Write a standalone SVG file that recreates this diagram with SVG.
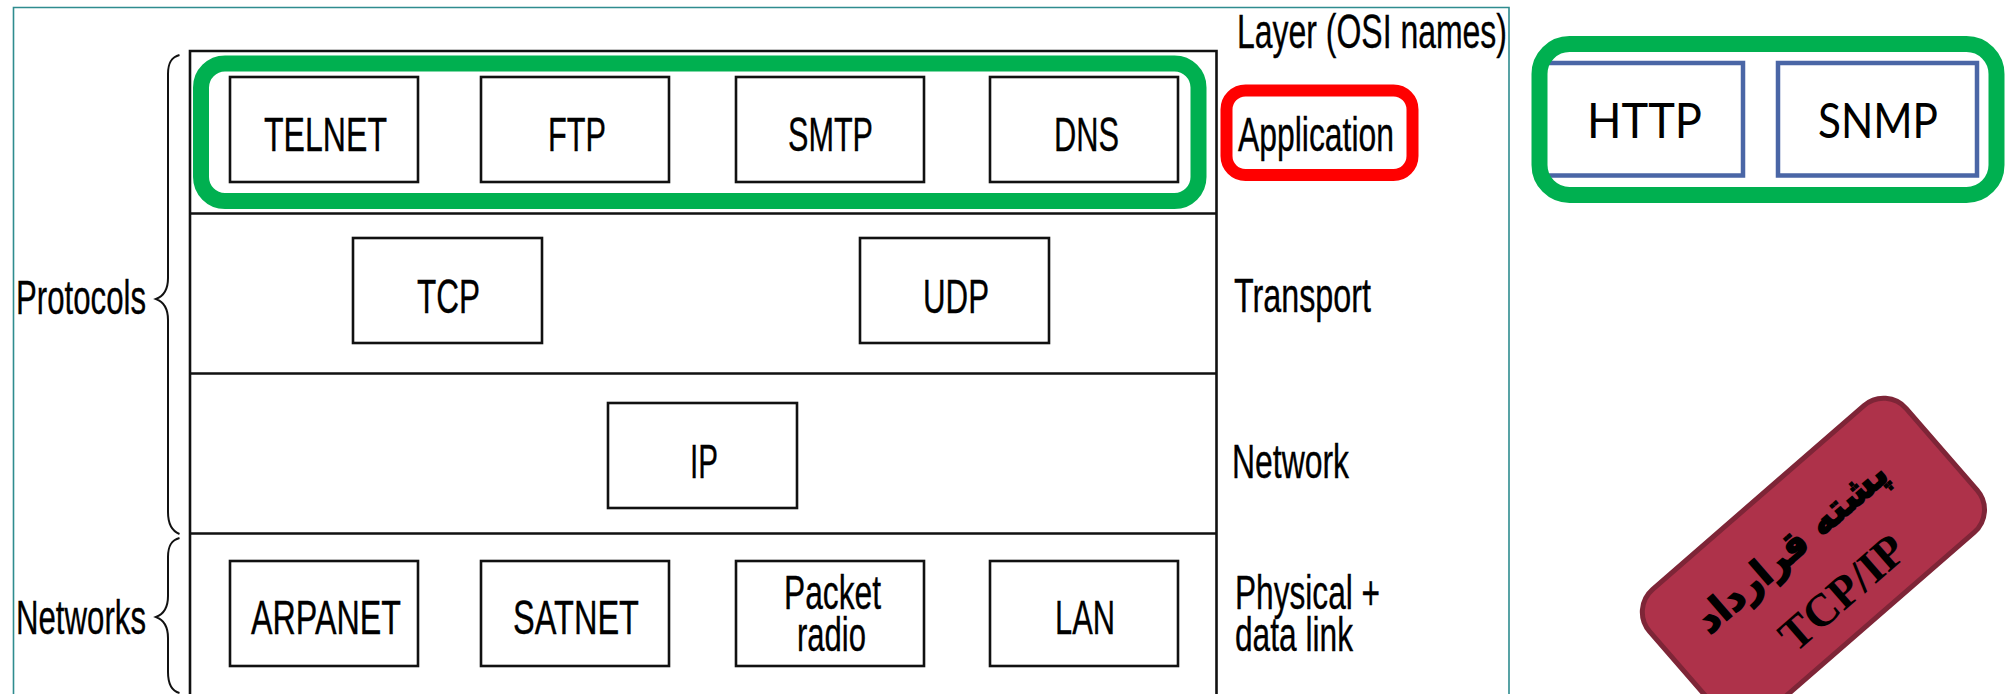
<svg xmlns="http://www.w3.org/2000/svg" width="2010" height="694" viewBox="0 0 2010 694">
<style>
.t{font-family:"Liberation Sans",Arial,sans-serif;font-size:48px;fill:#000;stroke:#000;stroke-width:.35}
.g{font-family:Lato,"Noto Sans",sans-serif;font-size:48px;fill:#000}
.box{fill:#fff;stroke:#111;stroke-width:2.6}
.blue{fill:#fff;stroke:#4A66A6;stroke-width:4.5}
.green{fill:none;stroke:#00B050;stroke-width:16}
.brace{fill:none;stroke:#111;stroke-width:2}
.rule{stroke:#111;stroke-width:2.6;fill:none}
</style>
<rect width="2010" height="694" fill="#fff"/>
<path id="frame" d="M13.5 694V7.5H1509V694" fill="none" stroke="#2F8C8F" stroke-width="1.6"/>
<g id="stack">
<path class="rule" d="M190 694V51H1216.500V694M190 213.500H1216.500M190 373.500H1216.500M190 533.500H1216.500"/>
</g>
<g id="connectors">
<path class="brace" d="M179.500 55C172 57 168 62 168 74V278C168 290 164 296 156 299C164 302 168 308 168 320V512C168 525 172 531 179.500 534"/>
<path class="brace" d="M179.500 538C172 540 168 545 168 557V596C168 608 164 614 156 617C164 620 168 626 168 638V672C168 685 172 691 179.500 693"/>
</g>
<g id="telnet"><rect class="box" x="230" y="77" width="188" height="105"/><text class="t" x="264" y="150.500" textLength="123" lengthAdjust="spacingAndGlyphs">TELNET</text></g>
<g id="ftp"><rect class="box" x="481" y="77" width="188" height="105"/><text class="t" x="548" y="150.500" textLength="58" lengthAdjust="spacingAndGlyphs">FTP</text></g>
<g id="smtp"><rect class="box" x="736" y="77" width="188" height="105"/><text class="t" x="788" y="150.500" textLength="85" lengthAdjust="spacingAndGlyphs">SMTP</text></g>
<g id="dns"><rect class="box" x="990" y="77" width="188" height="105"/><text class="t" x="1054" y="150.500" textLength="65" lengthAdjust="spacingAndGlyphs">DNS</text></g>
<g id="tcp"><rect class="box" x="353" y="238" width="189" height="105"/><text class="t" x="417" y="312.500" textLength="63" lengthAdjust="spacingAndGlyphs">TCP</text></g>
<g id="udp"><rect class="box" x="860" y="238" width="189" height="105"/><text class="t" x="923" y="312.500" textLength="66" lengthAdjust="spacingAndGlyphs">UDP</text></g>
<g id="ip"><rect class="box" x="608" y="403" width="189" height="105"/><text class="t" x="690" y="477.500" textLength="28" lengthAdjust="spacingAndGlyphs">IP</text></g>
<g id="arpanet"><rect class="box" x="230" y="561" width="188" height="105"/><text class="t" x="251" y="633.500" textLength="150" lengthAdjust="spacingAndGlyphs">ARPANET</text></g>
<g id="satnet"><rect class="box" x="481" y="561" width="188" height="105"/><text class="t" x="513" y="633.500" textLength="126" lengthAdjust="spacingAndGlyphs">SATNET</text></g>
<g id="packet-radio"><rect class="box" x="736" y="561" width="188" height="105"/><text class="t" x="784" y="608.500" textLength="97" lengthAdjust="spacingAndGlyphs">Packet</text><text class="t" x="797" y="651" textLength="69" lengthAdjust="spacingAndGlyphs">radio</text></g>
<g id="lan"><rect class="box" x="990" y="561" width="188" height="105"/><text class="t" x="1055" y="633.500" textLength="60" lengthAdjust="spacingAndGlyphs">LAN</text></g>
<g id="labels">
<text class="t" x="16" y="313.500" textLength="130" lengthAdjust="spacingAndGlyphs">Protocols</text>
<text class="t" x="16" y="633.500" textLength="130" lengthAdjust="spacingAndGlyphs">Networks</text>
<text class="t" x="1237" y="48" textLength="270" lengthAdjust="spacingAndGlyphs">Layer (OSI names)</text>
<text class="t" x="1238" y="150.500" textLength="156" lengthAdjust="spacingAndGlyphs">Application</text>
<text class="t" x="1234" y="311.500" textLength="137" lengthAdjust="spacingAndGlyphs">Transport</text>
<text class="t" x="1232" y="477.500" textLength="117" lengthAdjust="spacingAndGlyphs">Network</text>
<text class="t" x="1235" y="608.500" textLength="145" lengthAdjust="spacingAndGlyphs">Physical +</text>
<text class="t" x="1235" y="651" textLength="118" lengthAdjust="spacingAndGlyphs">data link</text>
</g>
<g id="green-left"><rect class="green" x="201" y="63.500" width="997.500" height="137.500" rx="24" ry="24"/></g>
<g id="red-application"><rect x="1226.500" y="90.500" width="186" height="84.500" rx="19" ry="19" fill="none" stroke="#FF0000" stroke-width="12"/></g>
<g id="http"><rect class="blue" x="1540" y="63" width="203" height="112.500"/><text class="g" x="1587" y="137.500" textLength="115" lengthAdjust="spacingAndGlyphs">HTTP</text></g>
<g id="snmp"><rect class="blue" x="1778" y="63" width="199" height="112.500"/><text class="g" x="1818" y="137.500" textLength="120" lengthAdjust="spacingAndGlyphs">SNMP</text></g>
<g id="green-right"><rect class="green" x="1539.500" y="44" width="457" height="151" rx="30" ry="30"/></g>
<g id="tcpip-badge" transform="translate(1630 609) rotate(-41)">
<rect x="0" y="0" width="340" height="168" rx="30" ry="30" fill="#AE324A" stroke="#7E2537" stroke-width="5"/>
<text x="163" y="72" text-anchor="middle" direction="rtl" font-family="'DejaVu Sans',sans-serif" font-weight="700" font-size="38" fill="#000" stroke="#000" stroke-width="1.6">پشته قرارداد</text>
<text x="171" y="142" text-anchor="middle" font-family="'Liberation Serif',serif" font-weight="700" font-size="46" fill="#000">TCP/IP</text>
</g>
</svg>
